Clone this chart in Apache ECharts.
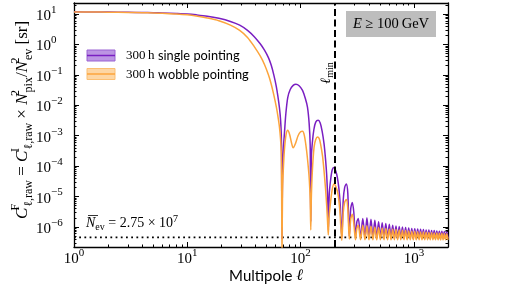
<!DOCTYPE html>
<html><head><meta charset="utf-8">
<script src="https://cdn.jsdelivr.net/npm/echarts@6/dist/echarts.min.js"></script>
<style>html,body{margin:0;padding:0;background:#fff}#c{width:523px;height:285px}</style>
</head><body><div id="c"></div>
<script>
// ---------- data ----------
const xMajorTicks = [1, 10, 100, 1000];
const yMajorTicks = [1e-6, 1e-5, 1e-4, 1e-3, 1e-2, 1e-1, 1, 10];
const ellMin = 200;
const shotNoiseLine = [[1, 4.57e-7], [2000, 4.57e-7]];
const seriesNames = ['300 h single pointing', '300 h wobble pointing'];

const singlePointing = [
  [1, 11.8], [1.5, 11.7], [2, 11.6], [3, 11.4], [4, 11.2], [5, 11.0], [6, 10.8], [8, 10.4],
  [10, 10.0], [12, 9.4], [15, 8.5], [19, 7.2], [24, 5.7], [29, 4.3], [34, 2.9], [39, 1.8],
  [44, 1.05], [48, 0.65], [52, 0.37], [55, 0.21], [58, 0.1], [61, 0.042], [63, 0.02],
  [65, 0.0085], [66.5, 0.0035], [67.7, 0.0008], [68.5, 4e-7],
  [69.3, 8e-5], [70.5, 4e-4], [72, 1.2e-3], [74, 5e-3], [77, 0.018], [81, 0.033], [86, 0.045],
  [91, 0.049], [97, 0.044], [104, 0.031], [110, 0.017], [115, 0.0087], [119, 0.0025],
  [121.5, 5e-4], [123, 1.5e-6],
  [124.5, 2e-4], [127, 6e-4], [131, 1.6e-3], [136, 2.8e-3], [143, 3.2e-3], [149, 2.6e-3],
  [155, 1.4e-3], [161, 5.5e-4], [166, 1.7e-4], [170, 5e-5], [173.5, 8e-6], [176, 8e-7],
  [179, 1.2e-5], [184, 3.5e-5], [190, 7.5e-5], [197, 9e-5], [204, 7e-5], [211, 4.3e-5],
  [218, 1.8e-5], [224, 5e-6], [231, 4.5e-7],
  [238, 8e-6], [245, 2e-5], [253, 2.6e-5], [261, 1.3e-5], [269, 5e-7],
  [277, 4e-6], [286, 6.4e-6], [295, 3e-6], [305, 4.8e-7], [314, 1.5e-6], [323, 1.9e-6],
  [338, 4.5e-7], [354, 1.9e-6], [370, 4.5e-7], [385, 2.0e-6], [401, 4.4e-7], [418, 1.8e-6],
  [435, 4.4e-7], [452, 1.65e-6], [470, 4.4e-7], [488, 1.5e-6], [506, 4.4e-7], [525, 1.38e-6],
  [545, 4.4e-7], [565, 1.3e-6], [586, 4.4e-7], [607, 1.22e-6], [628, 4.3e-7], [650, 1.15e-6],
  [672, 4.3e-7], [695, 1.08e-6], [718, 4.3e-7], [742, 1.03e-6], [767, 4.3e-7], [792, 9.9e-7],
  [818, 4.3e-7], [845, 9.6e-7], [872, 4.3e-7], [900, 9.3e-7], [929, 4.3e-7], [958, 9.0e-7],
  [988, 4.3e-7], [1018, 8.8e-7], [1049, 4.3e-7], [1080, 8.6e-7], [1112, 4.3e-7], [1145, 8.4e-7],
  [1179, 4.3e-7], [1213, 8.2e-7], [1248, 4.3e-7], [1283, 8.0e-7], [1319, 4.3e-7], [1356, 7.9e-7],
  [1394, 4.3e-7], [1432, 7.7e-7], [1471, 4.3e-7], [1511, 7.6e-7], [1552, 4.3e-7], [1593, 7.4e-7],
  [1635, 4.3e-7], [1678, 7.3e-7], [1722, 4.3e-7], [1766, 7.2e-7], [1811, 4.3e-7], [1857, 7.1e-7],
  [1904, 4.3e-7], [1951, 7.0e-7], [2000, 4.3e-7]
];

const wobblePointing = [
  [1, 11.7], [1.5, 11.6], [2, 11.5], [3, 11.3], [4, 11.0], [5, 10.8], [6, 10.5], [8, 10.0],
  [10, 9.4], [12, 8.6], [15, 7.4], [19, 6.0], [24, 4.3], [29, 2.9], [34, 1.7], [39, 0.85],
  [44, 0.42], [48, 0.22], [52, 0.1], [55, 0.05], [58, 0.022], [61, 0.009], [63, 0.0045],
  [65, 0.002], [66.5, 8e-4], [67.7, 2e-4], [68.5, 1e-7],
  [69.3, 1.5e-5], [70.3, 7e-5], [72, 3.5e-4], [74.5, 1.1e-3], [77, 1.5e-3], [80, 1.1e-3],
  [83, 6e-4], [86, 4e-4], [90, 5.5e-4], [95, 1.0e-3], [100, 1.35e-3], [104, 1.4e-3],
  [108, 1.0e-3], [113, 3.2e-4], [117, 9e-5], [119.5, 3.3e-5], [121.5, 8e-6], [123, 8e-7],
  [124.5, 1e-5], [127, 7e-5], [131.5, 4.2e-4], [136, 7.5e-4], [141, 9e-4], [146, 8e-4],
  [150, 5.4e-4], [156, 2.2e-4], [161, 7e-5], [166, 1.8e-5], [170, 5e-6], [173, 1.5e-6],
  [175.5, 5.5e-7],
  [178, 2e-6], [183, 5.6e-6], [190, 1.7e-5], [197, 2.6e-5], [204, 2.2e-5], [214, 1.2e-5],
  [222, 3.5e-6], [231, 3.6e-7],
  [238, 3e-6], [245, 6.5e-6], [253, 8e-6], [261, 4e-6], [269, 4e-7],
  [277, 1.8e-6], [286, 2.6e-6], [295, 1.3e-6], [305, 3.8e-7], [314, 9e-7], [323, 1.15e-6],
  [338, 3.8e-7], [354, 1.15e-6], [370, 3.8e-7], [385, 1.1e-6], [401, 3.8e-7], [418, 1.05e-6],
  [435, 3.8e-7], [452, 1.0e-6], [470, 3.8e-7], [488, 9.6e-7], [506, 3.8e-7], [525, 9.2e-7],
  [545, 3.8e-7], [565, 8.9e-7], [586, 3.8e-7], [607, 8.6e-7], [628, 3.8e-7], [650, 8.4e-7],
  [672, 3.8e-7], [695, 8.2e-7], [718, 3.8e-7], [742, 8.0e-7], [767, 3.8e-7], [792, 7.8e-7],
  [818, 3.8e-7], [845, 7.6e-7], [872, 3.8e-7], [900, 7.4e-7], [929, 3.8e-7], [958, 7.3e-7],
  [988, 3.8e-7], [1018, 7.2e-7], [1049, 3.8e-7], [1080, 7.0e-7], [1112, 3.8e-7], [1145, 6.9e-7],
  [1179, 3.8e-7], [1213, 6.8e-7], [1248, 3.8e-7], [1283, 6.7e-7], [1319, 3.8e-7], [1356, 6.6e-7],
  [1394, 3.8e-7], [1432, 6.5e-7], [1471, 3.8e-7], [1511, 6.4e-7], [1552, 3.8e-7], [1593, 6.3e-7],
  [1635, 3.8e-7], [1678, 6.2e-7], [1722, 3.8e-7], [1766, 6.2e-7], [1811, 3.8e-7], [1857, 6.1e-7],
  [1904, 3.8e-7], [1951, 6.0e-7], [2000, 3.8e-7]
];

// minor tick positions (2..9 x 10^n) for the log axes
const xMinorTicks = [];
[1, 10, 100].forEach(d => { for (let k = 2; k <= 9; k++) xMinorTicks.push(k * d); });
const yMinorTicks = [];
for (let e = -7; e <= 1; e++) for (let k = 2; k <= 9; k++) {
  const v = k * Math.pow(10, e); if (v > 2.2e-7 && v < 23) yMinorTicks.push(v);
}

// ---------- styling ----------
const PURPLE = '#7a1fc2';
const ORANGE = '#fca43c';
const SERIF = 'Liberation Serif';
const SANS = 'Lato';
const X_MIN = 1, X_MAX = 2000, Y_MIN = 2.2e-7, Y_MAX = 23;

const tickRich = {
  b: { fontFamily: SERIF, fontSize: 15, lineHeight: 19, color: '#000', verticalAlign: 'bottom' },
  s: { fontFamily: SERIF, fontSize: 11, lineHeight: 11, color: '#000', verticalAlign: 'top' }
};
function powLabel(v) {
  const e = Math.round(Math.log10(v));
  return '{b|10}{s|' + (e < 0 ? '\u2212' + (-e) : e) + '}';
}
const mathRich = {
  m: { fontFamily: SERIF, fontStyle: 'italic', fontSize: 17, lineHeight: 25, verticalAlign: 'middle', color: '#000' },
  o: { fontFamily: SERIF, fontSize: 17, lineHeight: 25, verticalAlign: 'middle', color: '#000' },
  sp: { fontFamily: SERIF, fontSize: 12, lineHeight: 12, verticalAlign: 'top', width: 1, color: '#000' },
  sb: { fontFamily: SERIF, fontSize: 12, lineHeight: 12, verticalAlign: 'bottom', color: '#000' }
};

function xAx(pos, major) {
  return {
    type: 'log', logBase: 10, min: X_MIN, max: X_MAX, position: pos, gridIndex: 0,
    axisLine: { show: major, onZero: false, lineStyle: { color: '#000', width: 1.3 } },
    axisTick: { show: true, inside: true, length: major ? 5 : 2.5,
      customValues: major ? xMajorTicks : xMinorTicks, lineStyle: { color: '#000', width: 1 } },
    axisLabel: (major && pos === 'bottom') ? {
      show: true, customValues: xMajorTicks, margin: 1, formatter: powLabel, rich: tickRich
    } : { show: false },
    splitLine: { show: false }, minorTick: { show: false }
  };
}
function yAx(pos, major) {
  return {
    type: 'log', logBase: 10, min: Y_MIN, max: Y_MAX, position: pos, gridIndex: 0,
    axisLine: { show: major, onZero: false, lineStyle: { color: '#000', width: 1.3 } },
    axisTick: { show: true, inside: true, length: major ? 5 : 2.5,
      customValues: major ? yMajorTicks : yMinorTicks, lineStyle: { color: '#000', width: 1 } },
    axisLabel: (major && pos === 'left') ? {
      show: true, customValues: yMajorTicks, margin: 38, align: 'left', formatter: powLabel, rich: tickRich
    } : { show: false },
    splitLine: { show: false }, minorTick: { show: false }
  };
}

const xAxes = [xAx('bottom', true), xAx('bottom', false), xAx('top', true), xAx('top', false)];
xAxes[0].name = '{t|Multipole }{l|\u2113}';
xAxes[0].nameLocation = 'middle';
xAxes[0].nameGap = 20;
xAxes[0].nameMoveOverlap = false;
xAxes[0].nameTextStyle = { padding: [0, 0, 0, 10], rich: {
  t: { fontFamily: SANS, fontSize: 15, lineHeight: 18, color: '#000' },
  l: { fontFamily: SERIF, fontStyle: 'italic', fontSize: 16, lineHeight: 18, color: '#000' } } };

const yAxes = [yAx('left', true), yAx('left', false), yAx('right', true), yAx('right', false)];
yAxes[0].name = '{m|C}{sp|F}{sb|\u2113,raw}{o| = }{m|C}{sp|I}{sb|\u2113,raw}{o| \u00d7 }{m|N}{sp|2}{sb|pix}{o|/}{m|N}{sp|2}{sb|ev}{o| [sr]}';
yAxes[0].nameLocation = 'middle';
yAxes[0].nameRotate = 90;
yAxes[0].nameGap = 39;
yAxes[0].nameMoveOverlap = false;
yAxes[0].nameTextStyle = { padding: [0, 0, 0, 10], rich: mathRich };

const option = {
  animation: false,
  backgroundColor: '#fff',
  grid: { left: 74, right: 75, top: 3, bottom: 38, containLabel: false, outerBoundsMode: 'none' },
  xAxis: xAxes,
  yAxis: yAxes,
  series: [
    { name: 'shot noise', type: 'line', xAxisIndex: 0, yAxisIndex: 0, data: shotNoiseLine,
      showSymbol: false, silent: true, lineStyle: { color: '#000', width: 1.6, type: [1.8, 3.4] }, z: 1 },
    { name: seriesNames[0], type: 'line', xAxisIndex: 0, yAxisIndex: 0, data: singlePointing,
      showSymbol: false, smooth: 0.3, lineStyle: { color: PURPLE, width: 1.5 }, itemStyle: { color: PURPLE }, z: 2 },
    { name: seriesNames[1], type: 'line', xAxisIndex: 0, yAxisIndex: 0, data: wobblePointing,
      showSymbol: false, smooth: 0.3, lineStyle: { color: ORANGE, width: 1.5 }, itemStyle: { color: ORANGE }, z: 3,
      markLine: { silent: true, symbol: 'none', label: { show: false },
        data: [
          { xAxis: ellMin, lineStyle: { color: '#000', width: 2, type: [7, 3.5] } }
        ] } }
  ]
};

const chart = echarts.init(document.getElementById('c'), null, { renderer: 'canvas' });
chart.setOption(option);

const xl = chart.convertToPixel({ xAxisIndex: 0 }, ellMin);
const legendRich = {
  n: { fontFamily: SERIF, fontSize: 13, color: '#000' },
  t: { fontFamily: SANS, fontSize: 12.8, color: '#000' }
};
chart.setOption({
  graphic: [
    { type: 'rect', shape: { x: 87, y: 50, width: 28, height: 11 }, style: { fill: '#bc95e3', stroke: '#9a62d2', lineWidth: 1 } },
    { type: 'line', shape: { x1: 87, y1: 55.5, x2: 115, y2: 55.5 }, style: { stroke: PURPLE, lineWidth: 1.5 } },
    { type: 'text', x: 126, y: 56, style: { text: '{n|300\u2009h} {t|single pointing}', rich: legendRich, verticalAlign: 'middle' } },
    { type: 'rect', shape: { x: 87, y: 68.5, width: 28, height: 11 }, style: { fill: '#fdd6a4', stroke: '#fbbf73', lineWidth: 1 } },
    { type: 'line', shape: { x1: 87, y1: 74, x2: 115, y2: 74 }, style: { stroke: ORANGE, lineWidth: 1.5 } },
    { type: 'text', x: 126, y: 74.5, style: { text: '{n|300\u2009h} {t|wobble pointing}', rich: legendRich, verticalAlign: 'middle' } },
    { type: 'rect', shape: { x: 346, y: 11, width: 90, height: 26 }, style: { fill: '#bdbdbd' } },
    { type: 'text', x: 391, y: 24, style: { text: '{i|E}{o| \u2265 100\u2009GeV}', align: 'center', verticalAlign: 'middle',
      rich: { i: { fontFamily: SERIF, fontStyle: 'italic', fontSize: 14.5, color: '#000' }, o: { fontFamily: SERIF, fontSize: 14.5, color: '#000' } } } },
    { type: 'text', x: xl - 8, y: 73, rotation: Math.PI / 2, style: { text: '{l|\u2113}{s|min}', align: 'center', verticalAlign: 'middle',
      rich: { l: { fontFamily: SERIF, fontStyle: 'italic', fontSize: 14, lineHeight: 18, verticalAlign: 'middle', color: '#000' },
              s: { fontFamily: SERIF, fontSize: 10, lineHeight: 10, verticalAlign: 'bottom', color: '#000' } } } },
    { type: 'text', x: 86, y: 223, style: { text: '{m|N}{sb|ev}{o| = 2.75 \u00d7 10}{sp|7}', verticalAlign: 'middle',
      rich: { m: { fontFamily: SERIF, fontStyle: 'italic', fontSize: 14, lineHeight: 18, verticalAlign: 'middle', color: '#000' },
              o: { fontFamily: SERIF, fontSize: 14, lineHeight: 18, verticalAlign: 'middle', color: '#000' },
              sb: { fontFamily: SERIF, fontSize: 10, lineHeight: 9, verticalAlign: 'bottom', color: '#000' },
              sp: { fontFamily: SERIF, fontSize: 10, lineHeight: 10, verticalAlign: 'top', color: '#000' } } } },
    { type: 'line', shape: { x1: 88, y1: 215.5, x2: 98, y2: 215.5 }, style: { stroke: '#000', lineWidth: 0.8 } }
  ]
});
</script></body></html>
